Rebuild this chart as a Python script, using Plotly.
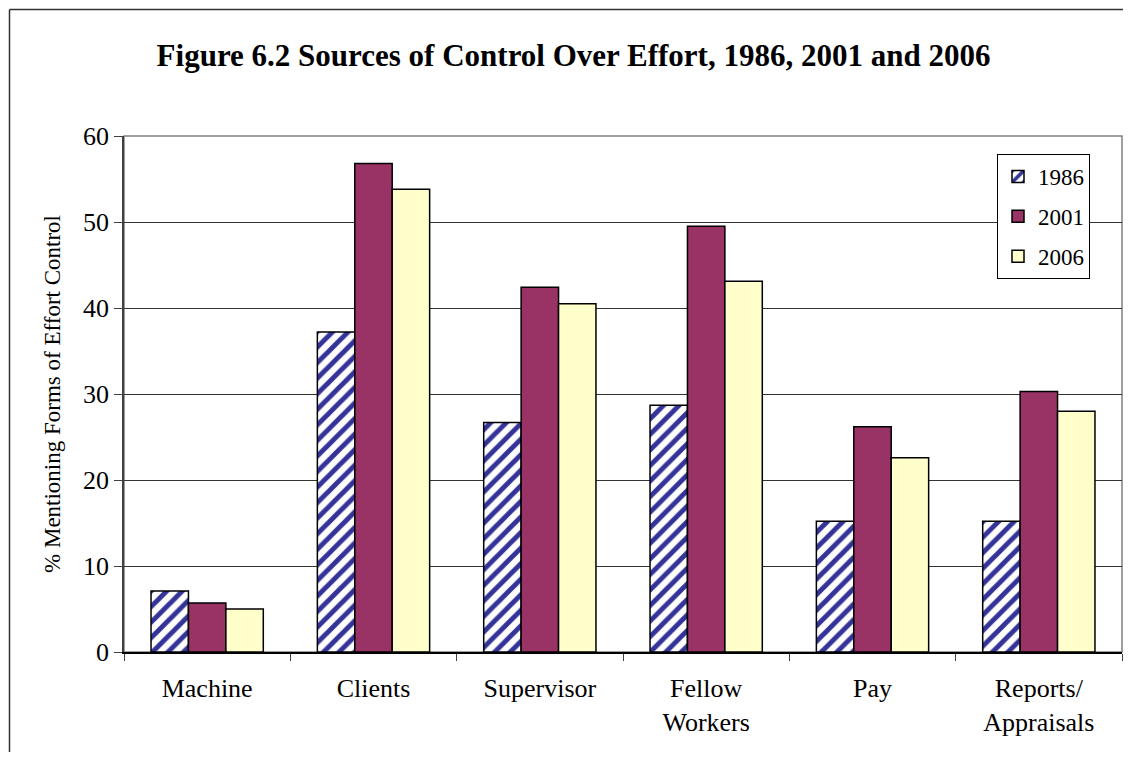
import plotly.graph_objects as go

categories = ["Machine", "Clients", "Supervisor", "Fellow<br>Workers", "Pay", "Reports/<br>Appraisals"]
years = ["1986", "2001", "2006"]
v1986 = [7.1, 37.2, 26.7, 28.7, 15.2, 15.2]
v2001 = [5.7, 56.8, 42.4, 49.5, 26.2, 30.3]
v2006 = [5.0, 53.8, 40.5, 43.1, 22.6, 28.0]
y_ticks = [0, 10, 20, 30, 40, 50, 60]

FONT = "Liberation Serif, Times New Roman, serif"

fig = go.Figure()
fig.add_trace(go.Bar(
    x=categories, y=v1986, name=years[0], legendgroup="a",
    marker=dict(color="white", line=dict(color="black", width=1.5),
                pattern=dict(shape="/", fgcolor="#333399", fgopacity=1, bgcolor="white",
                             size=11, solidity=0.45)),
))
fig.add_trace(go.Bar(
    x=categories, y=v2001, name=years[1], legendgroup="b",
    marker=dict(color="#993366", line=dict(color="black", width=1.5)),
))
fig.add_trace(go.Bar(
    x=categories, y=v2006, name=years[2], legendgroup="c",
    marker=dict(color="#FFFFCC", line=dict(color="black", width=1.5)),
))

# page offset from default body margin
OFF = 8
PL, PR, PT, PB = 124, 1122, 136, 652   # plot area in page pixels
W, H = 1115, 744
pw, ph = PR - PL, PB - PT

def px(xp):
    return (xp - PL) / pw

def py(yp):
    return 1 - (yp - PT) / ph

fig.update_layout(
    width=W, height=H,
    margin=dict(l=PL - OFF, r=W + OFF - PR, t=PT - OFF, b=H + OFF - PB),
    paper_bgcolor="white", plot_bgcolor="white",
    font=dict(family=FONT, size=24, color="black"),
    barmode="group", bargap=0.325, bargroupgap=0,
    title=dict(text="<b>Figure 6.2 Sources of Control Over Effort, 1986, 2001 and 2006</b>",
               x=(573.5 - OFF) / W, xanchor="center", y=1 - (55 - OFF) / H, yanchor="middle",
               font=dict(family=FONT, size=31, color="black")),
    legend=dict(x=px(997), y=py(154), xanchor="left", yanchor="top",
                bgcolor="white", bordercolor="black", borderwidth=1,
                font=dict(family=FONT, size=23), tracegroupgap=7,
                itemwidth=30),
    showlegend=True,
)
fig.update_xaxes(
    showline=True, linecolor="black", linewidth=1.5,
    ticks="outside", tickson="boundaries", ticklen=7, tickcolor="#404040",
    tickfont=dict(family=FONT, size=26), showgrid=False, ticklabelstandoff=12,
)
fig.update_yaxes(
    range=[0, 60], tickvals=y_ticks, showgrid=True, gridcolor="#333333", gridwidth=1,
    showline=True, linecolor="#404040", linewidth=1.5,
    ticks="outside", ticklen=8, tickcolor="#404040",
    tickfont=dict(family=FONT, size=26),
    title=dict(text="% Mentioning Forms of Effort Control", font=dict(family=FONT, size=23), standoff=16),
    zeroline=False,
)

# plot area border (grey) and outer figure frame
fig.add_shape(type="rect", xref="paper", yref="paper", x0=0, x1=1, y0=0, y1=1,
              line=dict(color="#808080", width=1.5), layer="below")
fig.add_shape(type="line", xref="paper", yref="paper", x0=px(9.5), x1=px(9.5), y0=py(9.5), y1=py(780),
              line=dict(color="#333333", width=1.5))
fig.add_shape(type="line", xref="paper", yref="paper", x0=px(9.5), x1=px(1150), y0=py(9.5), y1=py(9.5),
              line=dict(color="#333333", width=1.5))

fig.write_html("out.html")
